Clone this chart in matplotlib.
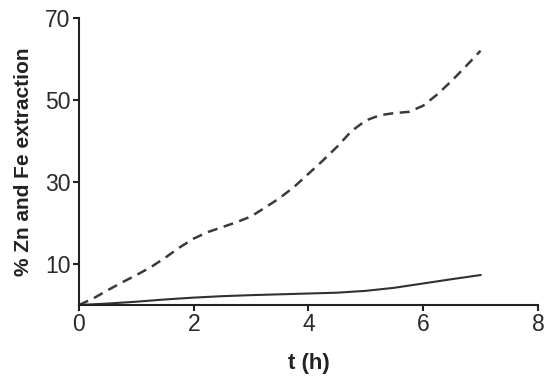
import matplotlib
matplotlib.use('Agg')
import matplotlib.pyplot as plt

# dashed curve, every 0.25 h
t_dashed = [0, 0.25, 0.5, 0.75, 1.0, 1.25, 1.5, 1.75, 2.0, 2.25, 2.5, 2.75,
            3.0, 3.25, 3.5, 3.75, 4.0, 4.25, 4.5, 4.75, 5.0, 5.25, 5.5, 5.75,
            6.0, 6.25, 6.5, 6.75, 7.0]
dashed_vals = [0, 1.6, 3.6, 5.5, 7.3, 9.2, 11.5, 14.0, 16.2, 17.8, 19.0, 20.2,
               21.6, 23.8, 26.1, 28.8, 32.0, 35.2, 38.6, 42.4, 45.0, 46.3, 46.8,
               47.1, 48.6, 51.4, 54.7, 58.3, 62.0]

# solid curve, every 0.5 h
t_solid = [0, 0.5, 1.0, 1.5, 2.0, 2.5, 3.0, 3.5, 4.0, 4.5, 5.0, 5.5, 6.0, 6.5, 7.0]
solid_vals = [0, 0.35, 0.8, 1.35, 1.8, 2.15, 2.4, 2.6, 2.8, 3.0, 3.45, 4.2,
              5.25, 6.3, 7.3]

x_ticks = [0, 2, 4, 6, 8]
y_ticks = [10, 30, 50, 70]

plt.rcParams['font.family'] = ['Liberation Sans', 'DejaVu Sans']

fig = plt.figure(figsize=(5.5, 3.82), dpi=100)
ax = fig.add_axes([0.1436, 0.2016, 0.8344, 0.7514])

ax.plot(t_dashed, dashed_vals, color='#3a3a3a', lw=1.8,
        linestyle=(0, (4, 2.6)))
ax.plot(t_solid, solid_vals, color='#2b352c', lw=1.5)

ax.set_xlim(0, 8)
ax.set_ylim(0, 70)
ax.set_xticks(x_ticks)
ax.set_yticks(y_ticks)
ax.set_xticklabels([str(v) for v in x_ticks], fontsize=16.5)
ax.set_yticklabels([str(v) for v in y_ticks], fontsize=16.5)

for side in ['top', 'right']:
    ax.spines[side].set_visible(False)
for side in ['left', 'bottom']:
    ax.spines[side].set_linewidth(1.5)
    ax.spines[side].set_color('#222222')
ax.tick_params(direction='out', length=4, width=1.5, colors='#222222',
               labelcolor='#2a2a2a', pad=2)

ax.set_xlabel('t (h)', fontsize=16, fontweight='bold', labelpad=12,
              color='#222222')
ax.set_ylabel('% Zn and Fe extraction', fontsize=15, fontweight='bold',
              labelpad=9, color='#222222')

fig.savefig('out.png', dpi=100, facecolor='white')
